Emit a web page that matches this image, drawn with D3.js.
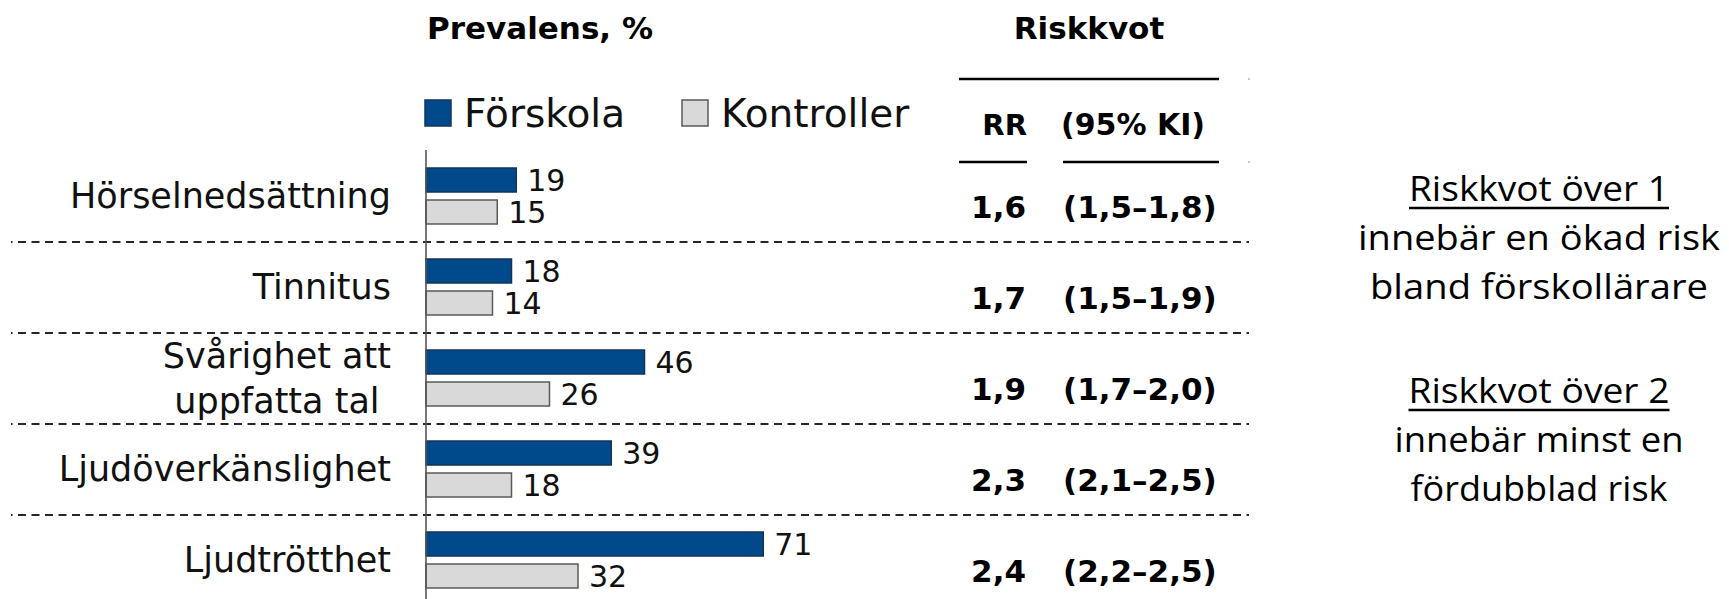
<!DOCTYPE html>
<html>
<head>
<meta charset="utf-8">
<script src="https://cdn.jsdelivr.net/npm/d3@7"></script>
<style>
  html, body { margin: 0; padding: 0; background: #fff; }
  svg { display: block; }
</style>
</head>
<body>
<svg id="chart" width="1729" height="599"></svg>
<script>
// ---------- data ----------
const categories = ["Hörselnedsättning", "Tinnitus", "Svårighet att|uppfatta tal", "Ljudöverkänslighet", "Ljudtrötthet"];
const seriesNames = ["Förskola", "Kontroller"];
const forskola = [19, 18, 46, 39, 71];
const kontroller = [15, 14, 26, 18, 32];
const rrValues = ["1,6", "1,7", "1,9", "2,3", "2,4"];
const ciValues = ["(1,5–1,8)", "(1,5–1,9)", "(1,7–2,0)", "(2,1–2,5)", "(2,2–2,5)"];
const prevalenceTitle = "Prevalens, %";
const riskTitle = "Riskkvot";
const rrHeader = "RR";
const ciHeader = "(95% KI)";
const note1 = ["Riskkvot över 1", "innebär en ökad risk", "bland förskollärare"];
const note2 = ["Riskkvot över 2", "innebär minst en", "fördubblad risk"];

// ---------- style / layout ----------
const colors = { "Förskola": "#004a8b", "Kontroller": "#d9d9d9" };
const strokes = { "Förskola": "#12345a", "Kontroller": "#5a5a5a" };
const gothic = "'DejaVu Sans', sans-serif";
const humanist = "'Open Sans', 'Noto Sans', sans-serif";

const svg = d3.select("#chart");
svg.append("rect").attr("width", 1729).attr("height", 599).attr("fill", "#fff");

const rows = categories.map((c, i) => ({
  cat: c, lines: c.split("|"),
  values: [{ s: seriesNames[0], v: forskola[i] }, { s: seriesNames[1], v: kontroller[i] }],
  rr: rrValues[i], ci: ciValues[i]
}));

const y = d3.scaleBand().domain(categories).range([151, 606]);
const yInner = d3.scaleBand().domain(seriesNames).range([17, 73]).paddingInner(0.25);
const x = d3.scaleLinear().domain([0, 100]).range([426, 426 + 475]);

// dashed separators
svg.append("g").selectAll("line")
  .data(categories.slice(1))
  .join("line")
  .attr("x1", 11).attr("x2", 1249)
  .attr("y1", d => y(d)).attr("y2", d => y(d))
  .attr("stroke", "#262626").attr("stroke-width", 2)
  .attr("stroke-dasharray", "8 5.5").attr("stroke-dashoffset", 6.5);

// bars
const groups = svg.append("g").selectAll("g")
  .data(rows).join("g")
  .attr("transform", d => `translate(0,${y(d.cat)})`);

groups.selectAll("rect")
  .data(d => d.values).join("rect")
  .attr("x", x(0))
  .attr("y", d => yInner(d.s))
  .attr("width", d => x(d.v) - x(0))
  .attr("height", yInner.bandwidth())
  .attr("fill", d => colors[d.s])
  .attr("stroke", d => strokes[d.s])
  .attr("stroke-width", 1.5);

groups.selectAll("text.val")
  .data(d => d.values).join("text")
  .attr("class", "val")
  .attr("x", d => x(d.v) + 11)
  .attr("y", d => yInner(d.s) + yInner.bandwidth() / 2)
  .attr("dy", "0.36em")
  .attr("font-family", gothic).attr("font-size", 30)
  .attr("fill", "#111")
  .text(d => d.v);

// axis line (category axis)
svg.append("line")
  .attr("x1", x(0)).attr("x2", x(0))
  .attr("y1", 150).attr("y2", 599)
  .attr("stroke", "#555").attr("stroke-width", 1.6);

// category labels
const labelRight = 391;
const lineGap = 45;
const catG = svg.append("g");
rows.forEach(r => {
  const cy = y(r.cat) + y.bandwidth() / 2;
  const n = r.lines.length;
  const texts = r.lines.map((ln, k) => catG.append("text")
    .attr("y", cy + (k - (n - 1) / 2) * lineGap)
    .attr("dy", "0.33em")
    .attr("font-family", gothic).attr("font-size", 35)
    .attr("text-anchor", "middle").attr("fill", "#111")
    .text(ln));
  const maxW = d3.max(texts, t => t.node().getComputedTextLength());
  texts.forEach(t => t.attr("x", labelRight - maxW / 2));
});

// header: Prevalens
svg.append("text").attr("x", 427).attr("y", 39)
  .attr("font-family", gothic).attr("font-weight", "bold").attr("font-size", 31)
  .attr("fill", "#000").text(prevalenceTitle);

// legend
const legend = svg.append("g").selectAll("g")
  .data(seriesNames).join("g")
  .attr("transform", (d, i) => `translate(${[425, 682][i]},100)`);
legend.append("rect")
  .attr("width", 26).attr("height", 26)
  .attr("fill", d => colors[d]).attr("stroke", d => strokes[d]).attr("stroke-width", 1.5);
legend.append("text")
  .attr("x", 39).attr("y", 27)
  .attr("font-family", gothic).attr("font-size", 39).attr("fill", "#111")
  .text(d => d);

// header: Riskkvot table
svg.append("text").attr("x", 1089).attr("y", 39).attr("text-anchor", "middle")
  .attr("font-family", gothic).attr("font-weight", "bold").attr("font-size", 31)
  .attr("fill", "#000").text(riskTitle);
svg.append("line").attr("x1", 959).attr("x2", 1219).attr("y1", 79).attr("y2", 79)
  .attr("stroke", "#000").attr("stroke-width", 2.5);
svg.append("text").attr("x", 1027).attr("y", 135).attr("text-anchor", "end")
  .attr("font-family", gothic).attr("font-weight", "bold").attr("font-size", 29)
  .attr("fill", "#000").text(rrHeader);
svg.append("text").attr("x", 1061).attr("y", 135)
  .attr("font-family", gothic).attr("font-weight", "bold").attr("font-size", 30)
  .attr("fill", "#000").text(ciHeader);
svg.append("line").attr("x1", 959).attr("x2", 1027).attr("y1", 162).attr("y2", 162)
  .attr("stroke", "#000").attr("stroke-width", 2.5);
svg.append("line").attr("x1", 1063).attr("x2", 1219).attr("y1", 162).attr("y2", 162)
  .attr("stroke", "#000").attr("stroke-width", 2.5);
[79, 162].forEach(yy => svg.append("rect").attr("x", 1248).attr("y", yy - 1)
  .attr("width", 2).attr("height", 2).attr("fill", "#c8c8c8"));

// RR values
const rrG = svg.append("g").selectAll("g").data(rows).join("g")
  .attr("transform", d => `translate(0,${y(d.cat) + y.bandwidth() / 2 + 21})`);
rrG.append("text").attr("x", 1026).attr("text-anchor", "end")
  .attr("font-family", gothic).attr("font-weight", "bold").attr("font-size", 31)
  .attr("fill", "#000").text(d => d.rr);
rrG.append("text").attr("x", 1063)
  .attr("font-family", gothic).attr("font-weight", "bold").attr("font-size", 31)
  .attr("fill", "#000").text(d => d.ci);

// explanatory notes
function note(lines, y0, widths) {
  const cx = 1539;
  const pitch = 49;
  lines.forEach((ln, k) => {
    svg.append("text")
      .attr("x", cx).attr("y", y0 + k * pitch)
      .attr("text-anchor", "middle")
      .attr("font-family", humanist).attr("font-size", 34)
      .attr("fill", "#000")
      .attr("textLength", widths[k]).attr("lengthAdjust", "spacingAndGlyphs")
      .text(ln);
    if (k === 0) {
      svg.append("line")
        .attr("x1", cx - widths[k] / 2).attr("x2", cx + widths[k] / 2)
        .attr("y1", y0 + 7).attr("y2", y0 + 7)
        .attr("stroke", "#000").attr("stroke-width", 2.5);
    }
  });
}
note(note1, 201, [260, 362, 338]);
note(note2, 403, [261, 289, 257]);
</script>
</body>
</html>
